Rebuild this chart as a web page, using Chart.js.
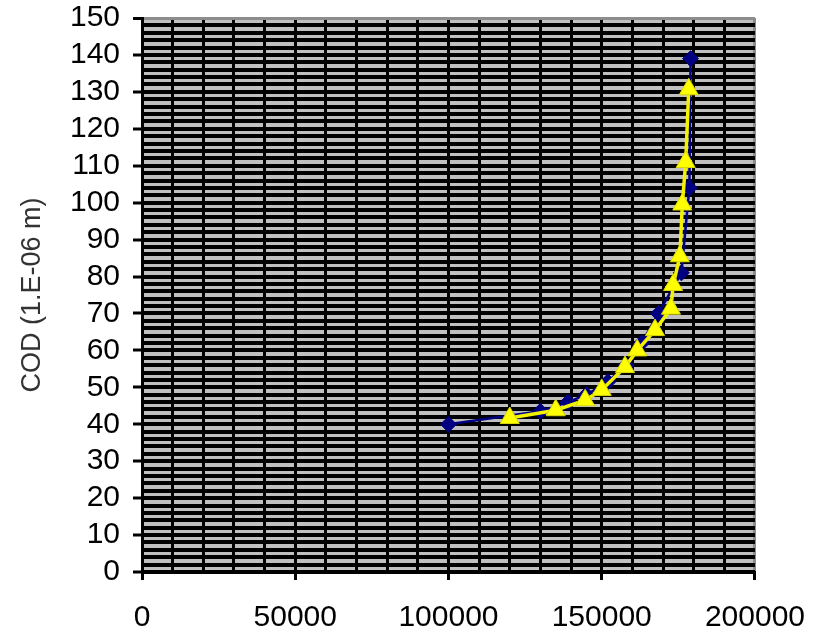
<!DOCTYPE html>
<html>
<head>
<meta charset="utf-8">
<script src="https://cdn.jsdelivr.net/npm/chart.js@4.4.1/dist/chart.umd.min.js"></script>
<style>
  html, body { margin: 0; padding: 0; background: #ffffff; }
  #chart { display: block; }
</style>
</head>
<body>
<canvas id="chart" width="825" height="632"></canvas>
<script>
// Series A (navy diamonds)
const seriesAX = [100000, 130000, 139000, 145000, 152000, 158000, 163000, 168500, 176000, 178600, 179000];
const seriesAY = [40, 43.5, 46, 48, 51.5, 56, 62, 70, 81, 104, 139];

// Series B (yellow triangles)
const seriesBX = [120000, 135000, 144600, 150000, 157600, 161600, 167400, 172600, 173300, 175500, 176300, 177400, 178400];
const seriesBY = [41.7, 43.8, 46.5, 49.3, 55.5, 60, 65.5, 71.3, 77.7, 85.5, 99.5, 111, 130.7];

// Axis ranges and labelled tick intervals
const xMin = 0, xMax = 200000, xMinorStep = 10000, xLabelStep = 50000;
const yMin = 0, yMax = 150, yMinorStep = 2, yLabelStep = 10;
const yTitle = 'COD (1.E-06 m)';

const toPoints = (xs, ys) => xs.map((x, i) => ({ x, y: ys[i] }));

const plotBackground = {
  id: 'plotBackground',
  beforeDraw(chart) {
    const { ctx, chartArea: a } = chart;
    ctx.save();
    ctx.fillStyle = '#C0C0C0';
    ctx.fillRect(a.left, a.top, a.right - a.left, a.bottom - a.top);
    ctx.restore();
  }
};

const tickFont = { family: "'Liberation Sans', Arial, sans-serif", size: 30 };

new Chart(document.getElementById('chart'), {
  type: 'scatter',
  data: {
    datasets: [
      {
        data: toPoints(seriesBX, seriesBY),
        showLine: true,
        borderColor: '#F2F200',
        borderWidth: 3.5,
        pointStyle: 'triangle',
        pointRadius: 11,
        pointBackgroundColor: '#FFFF00',
        pointBorderColor: '#D8D800',
        pointBorderWidth: 1
      },
      {
        data: toPoints(seriesAX, seriesAY),
        showLine: true,
        borderColor: '#000080',
        borderWidth: 2.5,
        pointStyle: 'rectRot',
        pointRadius: 8,
        pointBackgroundColor: '#000080',
        pointBorderColor: '#000080',
        pointBorderWidth: 1
      }
    ]
  },
  options: {
    responsive: false,
    animation: false,
    layout: { padding: { left: 0, right: 68, top: 0, bottom: 0 } },
    plugins: { legend: { display: false }, tooltip: { enabled: false } },
    scales: {
      x: {
        type: 'linear',
        min: xMin,
        max: xMax,
        afterFit(scale) { scale.height = 60; },
        border: { color: '#000000', width: 3 },
        grid: {
          color: ctx => ctx.tick && ctx.tick.value === xMax ? '#8C8C8C' : '#000000',
          lineWidth: 3,
          tickLength: 8,
          tickWidth: 3,
          tickColor: ctx => ctx.tick && ctx.tick.value % xLabelStep === 0 ? '#000000' : 'rgba(0,0,0,0)'
        },
        ticks: {
          stepSize: xMinorStep,
          autoSkip: false,
          maxRotation: 0,
          minRotation: 0,
          padding: 20,
          color: '#000000',
          font: tickFont,
          callback: v => (v % xLabelStep === 0 ? String(v) : '')
        }
      },
      y: {
        type: 'linear',
        min: yMin,
        max: yMax,
        afterFit(scale) {
          scale.width = 142;
          scale.paddingTop = 18;
          scale.paddingBottom = 0;
        },
        border: { color: '#000000', width: 3 },
        grid: {
          color: ctx => ctx.tick && ctx.tick.value === yMax ? '#8C8C8C' : '#000000',
          lineWidth: ctx => ctx.tick && ctx.tick.value === yMax ? 3 : 4,
          tickLength: 9,
          tickWidth: 3,
          tickColor: ctx => ctx.tick && ctx.tick.value % yLabelStep === 0 ? '#000000' : 'rgba(0,0,0,0)'
        },
        ticks: {
          stepSize: yMinorStep,
          maxTicksLimit: 1000,
          autoSkip: false,
          padding: 13,
          color: '#000000',
          font: tickFont,
          callback: v => (v % yLabelStep === 0 ? String(v) : '')
        },
        title: {
          display: true,
          text: yTitle,
          color: '#333333',
          padding: { top: 16, bottom: 0 },
          font: { family: "'Liberation Sans', Arial, sans-serif", size: 27 }
        }
      }
    }
  },
  plugins: [plotBackground]
});
</script>
</body>
</html>
